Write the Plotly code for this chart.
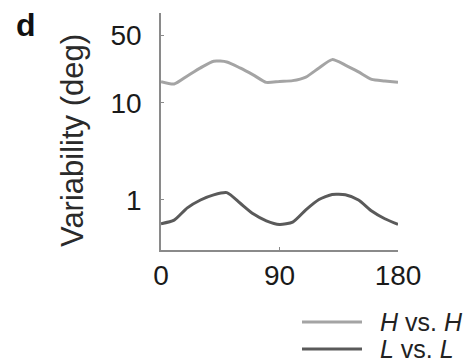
import plotly.graph_objects as go
import math

# Orientation difference (deg) and variability for the two conditions
angles = [0, 10, 20, 30, 40, 50, 60, 70, 80, 90, 100, 110, 120, 130, 140, 150, 160, 170, 180]
h_vs_h = [16.6, 15.7, 19.0, 23.0, 27.0, 26.5, 23.0, 19.5, 16.3, 16.7, 17.0, 18.5, 23.0, 28.0, 24.6, 20.9, 17.5, 16.9, 16.4]
l_vs_l = [0.57, 0.62, 0.83, 1.0, 1.13, 1.19, 0.93, 0.72, 0.61, 0.56, 0.59, 0.79, 1.01, 1.14, 1.13, 1.0, 0.77, 0.64, 0.56]

series_names = ["<i>H</i> vs. <i>H</i>", "<i>L</i> vs. <i>L</i>"]
series_colors = ["#a4a4a4", "#5a5a5a"]

x_ticks = [0, 90, 180]
y_ticks = [1, 10, 50]

W, H = 470, 364
ml, mr, mt, mb = 161, 72, 13, 114
pw, ph = W - ml - mr, H - mt - mb

fig = go.Figure()
for ys, name, col in zip([h_vs_h, l_vs_l], series_names, series_colors):
    fig.add_trace(go.Scatter(x=angles, y=ys, mode="lines", name=name,
                             line=dict(color=col, width=3, shape="spline", smoothing=0.6),
                             showlegend=False))

axis_col = "#8a8a8a"
fig.update_xaxes(range=[0, 180], tickvals=x_ticks, ticktext=[str(v) for v in x_ticks],
                 showline=True, linecolor=axis_col, linewidth=1.5,
                 ticks="inside", ticklen=3, tickcolor=axis_col, tickwidth=1,
                 showgrid=False, zeroline=False,
                 tickfont=dict(family="Liberation Sans, Arial", size=28, color="#1a1a1a"))
fig.update_yaxes(type="log", range=[math.log10(0.305), math.log10(84.7)],
                 tickvals=y_ticks, ticktext=[str(v) for v in y_ticks],
                 showline=True, linecolor=axis_col, linewidth=1.5,
                 ticks="inside", ticklen=3, tickcolor=axis_col, tickwidth=1,
                 ticklabelstandoff=12,
                 showgrid=False, zeroline=False,
                 tickfont=dict(family="Liberation Sans, Arial", size=28, color="#1a1a1a"))

def px_x(p):
    return (p - ml) / pw

def px_y(p):
    return (H - mb - p) / ph

annotations = [
    dict(text="Variability (deg)", textangle=-90, x=px_x(72), y=px_y(141),
         xref="paper", yref="paper", showarrow=False, xanchor="center", yanchor="middle",
         font=dict(family="Liberation Sans, Arial", size=31, color="#2a2a2a")),
    dict(text="<b>d</b>", x=px_x(14), y=px_y(5), xref="paper", yref="paper",
         showarrow=False, xanchor="left", yanchor="top",
         font=dict(family="Liberation Sans, Arial", size=32, color="#111111")),
]
shapes = []
legend_rows = [322, 349]
for name, col, ry in zip(series_names, series_colors, legend_rows):
    shapes.append(dict(type="line", xref="paper", yref="paper",
                       x0=px_x(302), x1=px_x(362), y0=px_y(ry), y1=px_y(ry),
                       line=dict(color=col, width=3)))
    annotations.append(dict(text=name, x=px_x(378), y=px_y(ry), xref="paper", yref="paper",
                            showarrow=False, xanchor="left", yanchor="middle",
                            font=dict(family="Liberation Sans, Arial", size=25, color="#222222")))

fig.update_layout(width=W, height=H, margin=dict(l=ml, r=mr, t=mt, b=mb),
                  paper_bgcolor="white", plot_bgcolor="white",
                  annotations=annotations, shapes=shapes)

fig.write_html("out.html")
